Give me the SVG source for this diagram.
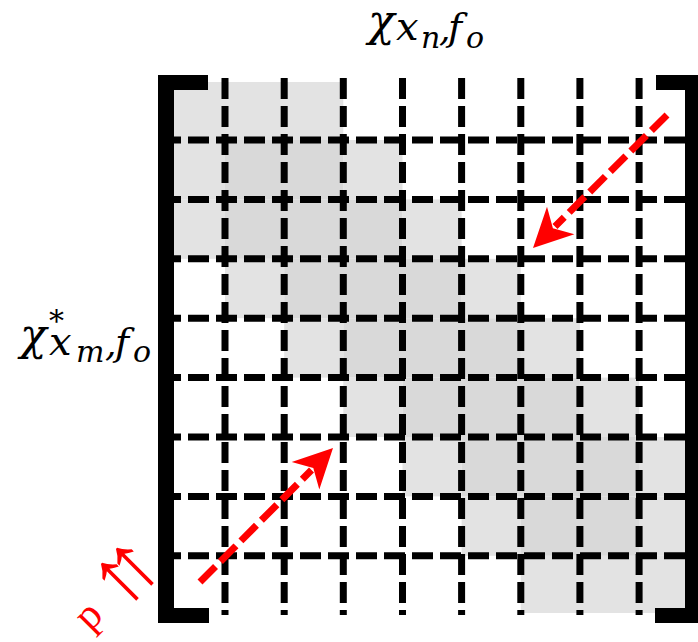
<svg xmlns="http://www.w3.org/2000/svg" width="698" height="642" viewBox="0 0 698 642">
<style>
.l{fill:#e3e3e3}
.d{fill:#d9d9d9}
.g{stroke:#000;stroke-width:7;stroke-dasharray:21 7;fill:none}
.br{fill:#000}
.ar{stroke:#ff0000;stroke-width:7;stroke-dasharray:22 7;fill:none}
.ah{fill:#ff0000}
.m{font-family:"DejaVu Serif","Liberation Serif",serif;font-style:italic;fill:#000}
.p{font-family:"Liberation Serif","DejaVu Serif",serif;fill:#ff0000}
</style>
<rect width="698" height="642" fill="#fff"/>
<g id="cells">
<rect class="l" x="166" y="82" width="177.3" height="58"/>
<rect class="l" x="166" y="140" width="59" height="59.4"/>
<rect class="l" x="343.3" y="140" width="59.2" height="59.4"/>
<rect class="l" x="166" y="199.4" width="59" height="59.4"/>
<rect class="l" x="402.5" y="199.4" width="59.1" height="59.4"/>
<rect class="l" x="225" y="258.8" width="59.2" height="59.4"/>
<rect class="l" x="461.6" y="258.8" width="59.2" height="59.4"/>
<rect class="l" x="284.2" y="318.2" width="59.1" height="59.4"/>
<rect class="l" x="520.8" y="318.2" width="59.1" height="59.4"/>
<rect class="l" x="343.3" y="377.6" width="59.2" height="59.4"/>
<rect class="l" x="579.9" y="377.6" width="59.2" height="59.4"/>
<rect class="l" x="402.5" y="437" width="59.1" height="59.4"/>
<rect class="l" x="639.1" y="437" width="50.9" height="59.4"/>
<rect class="l" x="461.6" y="496.4" width="59.2" height="59.4"/>
<rect class="l" x="639.1" y="496.4" width="50.9" height="59.4"/>
<rect class="l" x="520.8" y="555.8" width="169.2" height="57.2"/>
<rect class="d" x="225" y="140" width="118.3" height="59.4"/>
<rect class="d" x="225" y="199.4" width="177.5" height="59.4"/>
<rect class="d" x="284.2" y="258.8" width="177.4" height="59.4"/>
<rect class="d" x="343.3" y="318.2" width="177.5" height="59.4"/>
<rect class="d" x="402.5" y="377.6" width="177.4" height="59.4"/>
<rect class="d" x="461.6" y="437" width="177.5" height="59.4"/>
<rect class="d" x="520.8" y="496.4" width="118.3" height="59.4"/>
</g>
<g id="grid">
<line class="g" x1="225" y1="78" x2="225" y2="615"/>
<line class="g" x1="284.2" y1="78" x2="284.2" y2="615"/>
<line class="g" x1="343.3" y1="78" x2="343.3" y2="615"/>
<line class="g" x1="402.5" y1="78" x2="402.5" y2="615"/>
<line class="g" x1="461.6" y1="78" x2="461.6" y2="615"/>
<line class="g" x1="520.8" y1="78" x2="520.8" y2="615"/>
<line class="g" x1="579.9" y1="78" x2="579.9" y2="615"/>
<line class="g" x1="639.1" y1="78" x2="639.1" y2="615"/>
<line class="g" x1="160" y1="140" x2="698" y2="140"/>
<line class="g" x1="160" y1="199.4" x2="698" y2="199.4"/>
<line class="g" x1="160" y1="258.8" x2="698" y2="258.8"/>
<line class="g" x1="160" y1="318.2" x2="698" y2="318.2"/>
<line class="g" x1="160" y1="377.6" x2="698" y2="377.6"/>
<line class="g" x1="160" y1="437" x2="698" y2="437"/>
<line class="g" x1="160" y1="496.4" x2="698" y2="496.4"/>
<line class="g" x1="160" y1="555.8" x2="698" y2="555.8"/>
</g>
<g id="bracket-left">
<rect class="br" x="158" y="75" width="16" height="548"/>
<rect class="br" x="158" y="75" width="50" height="15"/>
<rect class="br" x="158" y="608" width="51" height="15"/>
</g>
<g id="bracket-right">
<rect class="br" x="685" y="75" width="13" height="548"/>
<rect class="br" x="656" y="75" width="42" height="15"/>
<rect class="br" x="655" y="608" width="43" height="15"/>
</g>
<g id="label-top">
<text class="m"><tspan x="368" y="36" font-size="44">χ</tspan><tspan x="396" y="40" font-size="40">x</tspan><tspan x="421" y="48" font-size="30">n</tspan><tspan x="439" y="41" font-size="36">,</tspan><tspan x="448" y="40" font-size="38">f</tspan><tspan x="466" y="48" font-size="30">o</tspan></text>
</g>
<g id="label-left">
<text class="m"><tspan x="20" y="350" font-size="44">χ</tspan><tspan x="49" y="331" font-size="30" font-style="normal">*</tspan><tspan x="49" y="355" font-size="40">x</tspan><tspan x="76" y="362" font-size="30">m</tspan><tspan x="105" y="356" font-size="36">,</tspan><tspan x="115" y="355" font-size="38">f</tspan><tspan x="133" y="362" font-size="30">o</tspan></text>
</g>
<g id="connectors">
<line class="ar" x1="667" y1="115" x2="555" y2="226.5"/>
<polygon class="ah" points="533,248 547,206.7 552.9,228.3 574.4,234.3"/>
<line class="ar" x1="200" y1="582" x2="311.5" y2="470"/>
<polygon class="ah" points="333,448 291.7,462 313.3,467.9 319.3,489.4"/>
</g>
<g id="label-p" transform="translate(90,632) rotate(-45)">
<text class="p" x="0" y="0" font-size="42">p</text>
<text class="p" x="56.6" y="8" font-size="86" text-anchor="middle">↑</text>
<text class="p" x="77.8" y="8" font-size="86" text-anchor="middle">↑</text>
</g>
</svg>
